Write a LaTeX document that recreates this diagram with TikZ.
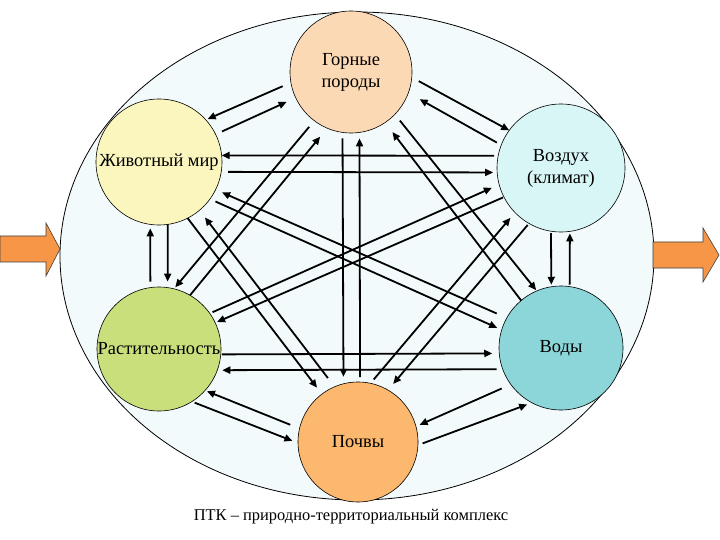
\documentclass[tikz,border=0pt]{standalone}
\usepackage{fontspec}
\setmainfont{Liberation Serif}
\usetikzlibrary{arrows.meta}
\definecolor{bgell}{HTML}{F3FAFB}
\definecolor{cG}{HTML}{FCD9B5}
\definecolor{cZ}{HTML}{FAF6BE}
\definecolor{cV}{HTML}{D9F6F7}
\definecolor{cR}{HTML}{C9DF7C}
\definecolor{cW}{HTML}{8CD6D9}
\definecolor{cP}{HTML}{FBB86E}
\definecolor{cArr}{HTML}{F79646}
\begin{document}
\begin{tikzpicture}[x=1bp,y=-1bp,
  sphere/.style={circle, draw=black, line width=0.6bp, inner sep=0pt, outer sep=0pt, align=center, font=\fontsize{18.5}{22}\selectfont},
  arr/.style={draw=black, line width=1.8bp, -{Triangle[length=8bp,width=7bp]}},
  bigarrow/.style={fill=cArr, draw=black!75, line width=0.6bp}]
\useasboundingbox (0,0) rectangle (720,540);
\fill[white] (0,0) rectangle (720,540);
\draw[fill=bgell, line width=0.8bp] (357,256) ellipse [x radius=297, y radius=244];
% big orange arrows
\draw[bigarrow] (0,236) -- (46,236) -- (46,223) -- (60,249) -- (46,276) -- (46,262) -- (0,262) -- cycle;
\draw[bigarrow] (653,242) -- (703,242) -- (703,228) -- (719,255) -- (703,282) -- (703,268) -- (653,268) -- cycle;
% nodes
\node[sphere, fill=cG, minimum size=122bp] (G) at (351,72) {Горные\\породы};
\node[sphere, fill=cZ, minimum size=126bp] (Z) at (159,162) {Животный мир};
\node[sphere, fill=cV, minimum size=128bp] (V) at (561,168) {Воздух\\(климат)};
\node[sphere, fill=cR, minimum size=124bp] (R) at (159,349) {Растительность};
\node[sphere, fill=cW, minimum size=124bp] (W) at (561,348) {Воды};
\node[sphere, fill=cP, minimum size=120bp] (P) at (358,442) {Почвы};
\node[font=\fontsize{16.5}{20}\selectfont] (cap) at (351,517) {ПТК – природно-территориальный комплекс};
% connectors
\draw[arr, shorten <=9bp, shorten >=2bp] (G.190) -- (Z.42);
\draw[arr, shorten <=7bp, shorten >=10bp] (Z.26) -- (G.205);
\draw[arr, shorten <=8bp, shorten >=0bp] (G.355) -- (V.144);
\draw[arr, shorten <=5bp, shorten >=13bp] (V.159) -- (G.340);
\draw[arr, shorten <=4bp, shorten >=0bp] (V.169) -- (Z.6);
\draw[arr, shorten <=7bp, shorten >=4bp] (Z.351) -- (V.184);
\draw[arr, shorten <=1bp, shorten >=7bp] (R.355.5) -- (W.185);
\draw[arr, shorten <=6bp, shorten >=5bp] (W.200.6) -- (R.340);
\draw[arr, shorten <=6bp, shorten >=7bp] (G.262) -- (P.104);
\draw[arr, shorten <=5bp, shorten >=6bp] (P.88) -- (G.278);
\draw[arr, shorten <=6bp, shorten >=4bp] (R.98) -- (Z.262);
\draw[arr, shorten <=0bp, shorten >=6bp] (Z.278.5) -- (R.82);
\draw[arr, shorten <=2bp, shorten >=2bp] (V.261) -- (W.99);
\draw[arr, shorten <=2bp, shorten >=2bp] (W.82) -- (V.278);
\draw[arr, shorten <=8bp, shorten >=2bp] (G.233) -- (R.76);
\draw[arr, shorten <=0bp, shorten >=11bp] (R.60) -- (G.247);
\draw[arr, shorten <=8bp, shorten >=1bp] (G.316) -- (W.113);
\draw[arr, shorten <=0bp, shorten >=12bp] (W.130) -- (G.304);
\draw[arr, shorten <=5bp, shorten >=7bp] (P.78) -- (V.224);
\draw[arr, shorten <=2bp, shorten >=8bp] (V.240) -- (P.60);
\draw[arr, shorten <=11bp, shorten >=9bp] (P.113) -- (Z.310);
\draw[arr, shorten <=0bp, shorten >=8bp] (Z.297) -- (P.127);
\draw[arr, shorten <=11bp, shorten >=7bp] (W.151) -- (Z.334);
\draw[arr, shorten <=6bp, shorten >=5bp] (Z.324) -- (W.163);
\draw[arr, shorten <=3bp, shorten >=8bp] (R.35) -- (V.195);
\draw[arr, shorten <=1bp, shorten >=2bp] (V.207) -- (R.25);
\draw[arr, shorten <=10bp, shorten >=2bp] (P.167) -- (R.318);
\draw[arr, shorten <=3bp, shorten >=6bp] (R.302) -- (P.181);
\draw[arr, shorten <=5bp, shorten >=5bp] (P.357) -- (W.242);
\draw[arr, shorten <=10bp, shorten >=4bp] (W.216) -- (P.15);
\end{tikzpicture}
\end{document}
